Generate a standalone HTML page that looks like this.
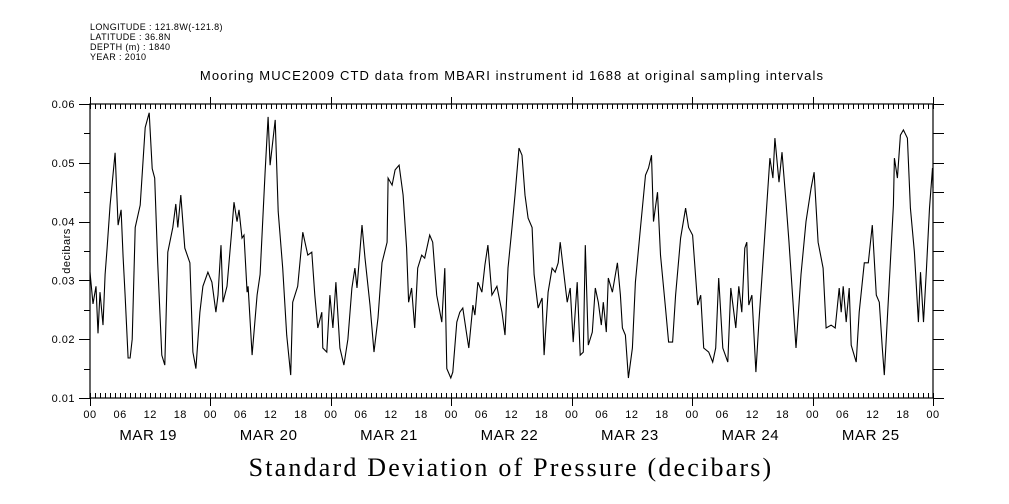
<!DOCTYPE html>
<html><head><meta charset="utf-8"><style>
html,body{margin:0;padding:0;background:#fff;}
svg{display:block;}
text{fill:#000;}
</style></head><body>
<svg id="chart" width="1009" height="504" viewBox="0 0 1009 504" xmlns="http://www.w3.org/2000/svg">
<g font-family="Liberation Sans, sans-serif" font-size="9" letter-spacing="0.4">
<text x="90" y="30">LONGITUDE : 121.8W(-121.8)</text>
<text x="90" y="40">LATITUDE : 36.8N</text>
<text x="90" y="50">DEPTH (m) : 1840</text>
<text x="90" y="60">YEAR : 2010</text>
</g>
<text x="512" y="80" text-anchor="middle" font-family="Liberation Sans, sans-serif" font-size="13" letter-spacing="1.1">Mooring MUCE2009 CTD data from MBARI instrument id 1688 at original sampling intervals</text>
<text x="0" y="0" transform="translate(70,251) rotate(-90)" text-anchor="middle" font-family="Liberation Sans, sans-serif" font-size="11" letter-spacing="0.5">decibars</text>
<text x="511" y="476" text-anchor="middle" font-family="Liberation Serif, serif" font-size="26" letter-spacing="2.2">Standard Deviation of Pressure (decibars)</text>
<g id="axes"></g>
<g id="series"></g>
</svg>
<script>
const hours = [0,0.6,1.2,1.6,2.0,2.6,3.0,3.4,4.0,5.0,5.6,6.2,6.6,7.0,7.6,8.0,8.4,9.0,10.0,11.0,11.8,12.4,12.9,13.5,14.3,14.9,15.5,16.5,17.1,17.5,18.1,18.9,19.9,20.5,21.1,21.9,22.5,23.5,24.3,25.1,25.5,26.1,26.5,27.3,28.3,28.7,29.3,29.7,30.3,30.7,31.3,31.5,32.3,33.3,33.9,34.9,35.5,35.9,36.9,37.5,38.4,39.2,40.0,40.4,41.4,42.4,43.4,44.2,44.8,45.4,46.2,46.4,47.2,47.8,48.4,49.0,49.8,50.6,51.4,52.2,52.8,53.2,54.2,54.8,55.8,56.6,57.4,58.2,59.2,59.4,60.2,60.8,61.6,62.4,63.1,63.5,64.1,64.7,65.3,66.1,66.7,67.7,68.3,69.1,70.1,70.7,71.1,71.9,72.3,73.1,73.7,74.3,75.1,75.5,76.3,76.7,77.3,78.1,78.7,79.3,80.1,81.1,82.1,82.7,83.3,84.1,84.7,85.5,86.1,86.7,87.3,88.1,88.5,89.3,90.1,90.5,91.3,92.1,92.7,93.3,93.7,94.3,95.1,95.7,96.3,97.1,97.7,98.3,98.7,99.3,100.1,100.7,101.3,101.9,102.3,102.9,103.3,104.1,105.1,105.7,106.1,106.7,107.3,108.1,108.7,109.7,110.7,111.3,111.9,112.3,113.1,113.7,114.7,115.3,116.1,116.7,117.7,118.7,119.3,120.1,121.1,121.7,122.3,123.3,124.1,124.7,125.3,126.1,127.1,127.7,128.7,129.3,129.9,130.5,130.9,131.3,131.9,132.7,133.3,134.3,135.1,135.5,136.1,136.5,137.3,137.9,138.7,139.3,140.1,140.7,141.7,142.7,143.7,144.3,145.1,146.1,146.7,147.7,148.5,149.3,149.7,150.1,150.7,151.3,151.7,152.7,153.3,154.3,155.1,155.9,156.7,157.3,157.9,158.3,159.3,160.1,160.3,160.9,161.5,162.1,162.9,163.5,164.3,165.1,165.5,166.1,166.7,167.3,167.9,168.0];
const values = [0.0314,0.026,0.029,0.021,0.028,0.0224,0.031,0.0355,0.0428,0.0517,0.0394,0.042,0.034,0.0275,0.0168,0.0168,0.020,0.039,0.0428,0.056,0.0585,0.049,0.0474,0.033,0.0173,0.0156,0.0348,0.039,0.043,0.039,0.0445,0.0355,0.033,0.0178,0.015,0.0246,0.029,0.0314,0.0297,0.0246,0.0275,0.036,0.0263,0.029,0.039,0.0433,0.040,0.042,0.0372,0.0377,0.028,0.029,0.0173,0.0275,0.031,0.0484,0.0578,0.0496,0.0573,0.0417,0.0321,0.0207,0.0139,0.0263,0.029,0.0382,0.0343,0.0348,0.0275,0.0219,0.0246,0.0185,0.0178,0.0275,0.0219,0.0297,0.0185,0.0156,0.020,0.0287,0.0321,0.0287,0.0394,0.0338,0.0258,0.0178,0.0236,0.033,0.0365,0.0474,0.0462,0.0488,0.0496,0.0445,0.0355,0.0263,0.0287,0.0219,0.0321,0.0343,0.0338,0.0377,0.0365,0.0275,0.0229,0.0321,0.015,0.0134,0.0144,0.0229,0.0246,0.0253,0.0207,0.0185,0.0258,0.0241,0.0297,0.028,0.0326,0.036,0.0275,0.029,0.0246,0.0207,0.0321,0.039,0.0445,0.0525,0.0513,0.0445,0.0406,0.039,0.031,0.0253,0.027,0.0173,0.028,0.0321,0.0314,0.033,0.0365,0.0321,0.0263,0.0287,0.0195,0.0297,0.0173,0.0178,0.036,0.019,0.0212,0.0287,0.0263,0.0224,0.0263,0.0212,0.0304,0.028,0.033,0.0275,0.0219,0.0207,0.0134,0.0185,0.0297,0.039,0.0479,0.0491,0.0513,0.040,0.045,0.0343,0.0253,0.0195,0.0195,0.0275,0.0372,0.0423,0.039,0.0377,0.0258,0.0275,0.0185,0.0178,0.0161,0.0185,0.0304,0.0185,0.0161,0.0287,0.0219,0.029,0.0246,0.0355,0.0365,0.0258,0.0275,0.0144,0.0229,0.0355,0.0457,0.0508,0.0474,0.0542,0.0467,0.0518,0.0433,0.0365,0.0263,0.0185,0.031,0.040,0.0457,0.0484,0.0365,0.0321,0.0219,0.0224,0.0219,0.0287,0.0246,0.029,0.0229,0.0287,0.019,0.0161,0.0246,0.033,0.033,0.0394,0.0275,0.0263,0.0185,0.0139,0.0297,0.0428,0.0508,0.0474,0.0547,0.0556,0.0542,0.0423,0.0348,0.0229,0.0314,0.0229,0.0321,0.0423,0.0491,0.0457];
const yTicks = [0.01,0.02,0.03,0.04,0.05,0.06];
const yTickLabels = ["0.01","0.02","0.03","0.04","0.05","0.06"];
const dayLabels = ["MAR 19","MAR 20","MAR 21","MAR 22","MAR 23","MAR 24","MAR 25"];
const hourLabels = ["00","06","12","18"];

const NS = "http://www.w3.org/2000/svg";
const L = 90, R = 933, T = 104, B = 398;
const xMin = 0, xMax = 168, yMin = 0.01, yMax = 0.06;
function xs(h){ return L + (h - xMin) / (xMax - xMin) * (R - L); }
function ys(v){ return B - (v - yMin) / (yMax - yMin) * (B - T); }
function mk(tag, attrs, parent){
  const e = document.createElementNS(NS, tag);
  for (const k in attrs) e.setAttribute(k, attrs[k]);
  parent.appendChild(e); return e;
}
const ax = document.getElementById('axes');
const frame = mk('rect', {x:L, y:T, width:R-L, height:B-T, fill:'none', stroke:'#000', 'stroke-width':1.2}, ax);



for (let v = yMin; v <= yMax + 1e-9; v += 0.005) {
  const y = Math.round(ys(v)) + 0.5;
  const major = Math.abs(Math.round(v*100) - v*100) < 1e-6;
  const t1 = mk('line', {x1: major ? L-11 : L-6, x2: L, y1: y, y2: y, stroke:'#000'}, ax);
  
  
  const t2 = mk('line', {x1: R, x2: R+11, y1: y, y2: y, stroke:'#000'}, ax);
  
  
}
yTicks.forEach((v, i) => {
  const t = mk('text', {x: 75, y: ys(v)+4, 'text-anchor':'end', 'font-family':'Liberation Sans, sans-serif', 'font-size':11, 'letter-spacing':0.5}, ax);
  t.textContent = yTickLabels[i];
  
  
});
for (let h = 0; h <= 168; h++) {
  const x = Math.round(xs(h)) + 0.5;
  const day = h % 24 === 0;
  const tt = mk('line', {x1:x, x2:x, y1: day ? T-7 : T, y2: T+5, stroke:'#000'}, ax);
  
  
  const tb = mk('line', {x1:x, x2:x, y1: B-5, y2: day ? B+8 : B, stroke:'#000'}, ax);
  
  
  if (h % 6 === 0) {
    const lb = mk('text', {x: xs(h), y: 418, 'text-anchor':'middle', 'font-family':'Liberation Sans, sans-serif', 'font-size':11, 'letter-spacing':0.5}, ax);
    lb.textContent = hourLabels[(h/6) % 4];
    
    
  }
}
dayLabels.forEach((d, i) => {
  const t = mk('text', {x: xs(i*24+12) - 2, y: 440, 'text-anchor':'middle', 'font-family':'Liberation Sans, sans-serif', 'font-size':15, 'letter-spacing':0.6}, ax);
  t.textContent = d;
  
  
});
const pts = hours.map((h, i) => xs(h).toFixed(1) + ',' + ys(values[i]).toFixed(1)).join(' ');
const line = mk('polyline', {points: pts, fill:'none', stroke:'#000', 'stroke-width':1.1}, document.getElementById('series'));


</script>
</body></html>
